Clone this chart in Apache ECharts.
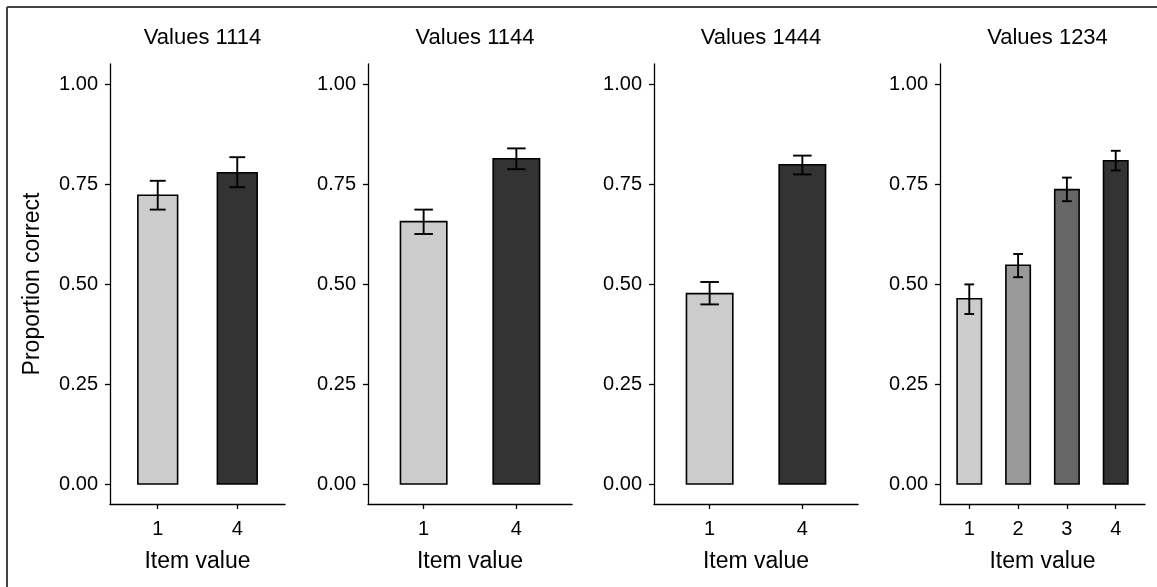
<!DOCTYPE html>
<html>
<head>
<meta charset="utf-8">
<script src="https://cdn.jsdelivr.net/npm/echarts@6/dist/echarts.min.js"></script>
<style>
html,body{margin:0;padding:0;background:#fff;}
#chart{width:1157px;height:587px;}
</style>
</head>
<body>
<div id="chart"></div>
<script>
// ---- data ----
const panelTitles = ['Values 1114', 'Values 1144', 'Values 1444', 'Values 1234'];
const panelCategories = [['1', '4'], ['1', '4'], ['1', '4'], ['1', '2', '3', '4']];
const meanValues = [
  [0.722, 0.778],
  [0.656, 0.813],
  [0.476, 0.798],
  [0.463, 0.547, 0.736, 0.808]
];
const errLow = [
  [0.686, 0.742],
  [0.625, 0.787],
  [0.449, 0.774],
  [0.425, 0.517, 0.707, 0.784]
];
const errHigh = [
  [0.758, 0.817],
  [0.686, 0.839],
  [0.505, 0.821],
  [0.499, 0.575, 0.766, 0.833]
];
const yTicks = [0, 0.25, 0.5, 0.75, 1];
const yAxisTitle = 'Proportion correct';
const xAxisTitle = 'Item value';

// ---- styles ----
const fillByItem = {'1': '#cccccc', '2': '#999999', '3': '#666666', '4': '#333333'};
const FONT = '"Liberation Sans", Arial, Helvetica, sans-serif';
const gridLeft = [110, 368, 654, 940];
const gridWidth = [175, 204, 204, 205];
const gridTop = 64, gridHeight = 440;

const chart = echarts.init(document.getElementById('chart'), null, {renderer: 'canvas'});

const grids = [], xAxes = [], yAxes = [], series = [], titles = [];
panelTitles.forEach((t, i) => {
  const cats = panelCategories[i];
  const n = cats.length;
  grids.push({left: gridLeft[i], top: gridTop, width: gridWidth[i], height: gridHeight, containLabel: false});
  titles.push({
    text: t, left: gridLeft[i] + gridWidth[i] / 2, top: 22, textAlign: 'center',
    textStyle: {fontFamily: FONT, fontSize: 22, fontWeight: 'normal', color: '#000'}
  });
  const idx = cats.map((c, k) => k + 1);
  xAxes.push({
    type: 'value', gridIndex: i, min: 0.4, max: n + 0.6,
    splitLine: {show: false},
    axisLine: {show: true, onZero: false, lineStyle: {color: '#000', width: 1.3}},
    axisTick: {show: true, customValues: idx, length: 5, lineStyle: {color: '#000', width: 1.3}},
    axisLabel: {
      customValues: idx, margin: 15, color: '#000', fontFamily: FONT, fontSize: 20,
      formatter: v => cats[Math.round(v) - 1]
    },
    name: xAxisTitle, nameLocation: 'middle', nameGap: 46,
    nameTextStyle: {fontFamily: FONT, fontSize: 23, color: '#000'}
  });
  yAxes.push({
    type: 'value', gridIndex: i, min: -0.05, max: 1.05,
    splitLine: {show: false},
    axisLine: {show: true, onZero: false, lineStyle: {color: '#000', width: 1.3}},
    axisTick: {show: true, customValues: yTicks, length: 5, lineStyle: {color: '#000', width: 1.3}},
    axisLabel: {
      customValues: yTicks, margin: 12, color: '#000', fontFamily: FONT, fontSize: 20,
      formatter: v => v.toFixed(2)
    },
    name: i === 0 ? yAxisTitle : '', nameLocation: 'middle', nameGap: 66, nameRotate: 90,
    nameTextStyle: {fontFamily: FONT, fontSize: 23, color: '#000'}
  });
  const data = cats.map((c, k) => [k + 1, meanValues[i][k], errLow[i][k], errHigh[i][k]]);
  series.push({
    type: 'custom', xAxisIndex: i, yAxisIndex: i, data: data,
    encode: {x: 0, y: 1},
    renderItem: function (params, api) {
      const x = api.value(0), v = api.value(1), lo = api.value(2), hi = api.value(3);
      const c = cats[x - 1];
      const p0 = api.coord([x - 0.25, v]);
      const p1 = api.coord([x + 0.25, 0]);
      const eL = api.coord([x - 0.1, hi]);
      const eR = api.coord([x + 0.1, lo]);
      const ec = api.coord([x, hi]);
      const ecl = api.coord([x, lo]);
      const ls = {stroke: '#000', lineWidth: 1.9};
      return {
        type: 'group',
        children: [
          {type: 'rect', shape: {x: p0[0], y: p0[1], width: p1[0] - p0[0], height: p1[1] - p0[1]},
           style: {fill: fillByItem[c], stroke: '#000', lineWidth: 1.6}},
          {type: 'line', shape: {x1: ec[0], y1: ec[1], x2: ecl[0], y2: ecl[1]}, style: ls},
          {type: 'line', shape: {x1: eL[0], y1: eL[1], x2: eR[0], y2: eL[1]}, style: ls},
          {type: 'line', shape: {x1: eL[0], y1: eR[1], x2: eR[0], y2: eR[1]}, style: ls}
        ]
      };
    }
  });
});

chart.setOption({
  animation: false,
  backgroundColor: '#fff',
  title: titles,
  grid: grids,
  xAxis: xAxes,
  yAxis: yAxes,
  series: series,
  graphic: [
    {type: 'line', shape: {x1: 7, y1: 7, x2: 1157, y2: 7}, style: {stroke: '#444', lineWidth: 2}},
    {type: 'line', shape: {x1: 7, y1: 7, x2: 7, y2: 587}, style: {stroke: '#444', lineWidth: 2}}
  ]
});
</script>
</body>
</html>
